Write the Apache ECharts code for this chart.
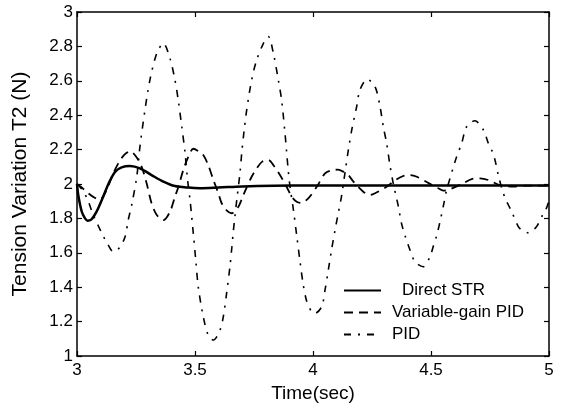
<!DOCTYPE html>
<html><head><meta charset="utf-8">
<script src="https://cdn.jsdelivr.net/npm/echarts@6/dist/echarts.min.js"></script>
<style>html,body{margin:0;padding:0;background:#fff}#c{width:570px;height:403px}</style>
</head><body><div id="c"></div>
<script>
const seriesNames = ['Direct STR', 'Variable-gain PID', 'PID'];

const strTime  = [3.000,3.006,3.020,3.034,3.045,3.060,3.075,3.090,3.111,3.133,3.161,3.189,3.225,3.267,3.316,3.366,3.415,3.472,3.521,3.600,3.700,3.830,4.000,4.250,4.500,4.750,5.000];
const strValue = [2.00,1.93,1.84,1.80,1.787,1.793,1.82,1.859,1.926,2.00,2.07,2.097,2.105,2.091,2.052,2.014,1.988,1.979,1.976,1.98,1.986,1.99,1.992,1.992,1.992,1.992,1.992];

const vgTime  = [3.000,3.020,3.048,3.075,3.097,3.120,3.150,3.175,3.200,3.225,3.250,3.274,3.295,3.316,3.338,3.366,3.394,3.415,3.430,3.450,3.472,3.493,3.515,3.535,3.556,3.578,3.599,3.613,3.635,3.655,3.684,3.705,3.740,3.761,3.785,3.811,3.832,3.860,3.888,3.910,3.931,3.950,3.980,4.016,4.051,4.079,4.105,4.128,4.150,4.171,4.213,4.242,4.263,4.312,4.340,4.380,4.411,4.440,4.490,4.531,4.552,4.580,4.637,4.675,4.708,4.743,4.792,4.850,4.900,4.950,5.000];
const vgValue = [2.00,1.98,1.946,1.92,1.91,1.95,2.05,2.12,2.17,2.19,2.16,2.10,2.004,1.888,1.82,1.79,1.839,1.926,1.984,2.08,2.159,2.205,2.19,2.169,2.11,2.023,1.946,1.888,1.845,1.83,1.868,1.936,2.042,2.09,2.13,2.14,2.11,2.052,1.984,1.926,1.897,1.89,1.917,1.984,2.062,2.08,2.083,2.072,2.052,2.014,1.955,1.936,1.946,1.984,2.014,2.045,2.052,2.042,2.005,1.975,1.962,1.97,2.004,2.03,2.033,2.023,1.994,1.985,1.99,1.99,1.99];

const pidTime  = [3.000,3.020,3.045,3.066,3.089,3.110,3.130,3.154,3.180,3.203,3.217,3.232,3.253,3.267,3.288,3.309,3.338,3.366,3.394,3.415,3.429,3.444,3.458,3.468,3.479,3.486,3.493,3.503,3.514,3.535,3.556,3.578,3.606,3.620,3.634,3.648,3.656,3.662,3.669,3.677,3.691,3.698,3.708,3.719,3.740,3.761,3.790,3.811,3.832,3.853,3.867,3.881,3.888,3.895,3.903,3.917,3.931,3.945,3.958,3.973,3.994,4.008,4.037,4.051,4.065,4.079,4.093,4.107,4.121,4.136,4.150,4.165,4.185,4.199,4.230,4.263,4.284,4.298,4.312,4.326,4.340,4.354,4.362,4.375,4.390,4.411,4.432,4.467,4.496,4.510,4.524,4.538,4.552,4.566,4.580,4.595,4.609,4.630,4.651,4.686,4.722,4.743,4.757,4.771,4.785,4.800,4.814,4.828,4.842,4.870,4.884,4.912,4.947,4.969,4.983,5.000];
const pidValue = [2.00,1.97,1.91,1.83,1.76,1.70,1.65,1.606,1.63,1.69,1.79,1.88,2.04,2.22,2.43,2.605,2.76,2.818,2.73,2.605,2.488,2.333,2.18,2.03,1.907,1.81,1.71,1.56,1.40,1.229,1.122,1.093,1.151,1.229,1.365,1.519,1.63,1.72,1.81,1.907,2.07,2.18,2.31,2.43,2.605,2.72,2.818,2.857,2.76,2.605,2.488,2.30,2.19,2.08,1.98,1.85,1.70,1.55,1.42,1.32,1.258,1.248,1.287,1.384,1.50,1.62,1.73,1.83,1.93,2.07,2.20,2.32,2.45,2.547,2.609,2.566,2.45,2.333,2.237,2.11,2.004,1.917,1.868,1.771,1.70,1.616,1.548,1.519,1.578,1.64,1.70,1.78,1.87,1.965,2.03,2.10,2.16,2.237,2.333,2.368,2.314,2.237,2.198,2.14,2.052,1.975,1.917,1.878,1.839,1.752,1.733,1.717,1.752,1.81,1.839,1.90];

const xTickLabels = ['3', '3.5', '4', '4.5', '5'];
const yTickLabels = ['1', '1.2', '1.4', '1.6', '1.8', '2', '2.2', '2.4', '2.6', '2.8', '3'];

const zip = (t, v) => t.map((x, i) => [x, v[i]]);
const FONT = '"Liberation Sans", Arial, Helvetica, sans-serif';

const lineAxis = { onZero: false, lineStyle: { color: '#000', width: 1.5 } };
const tickAxis = { inside: true, length: 5, lineStyle: { color: '#000', width: 1.2 } };

const chart = echarts.init(document.getElementById('c'), null, { renderer: 'canvas' });
chart.setOption({
  animation: false,
  backgroundColor: '#fff',
  grid: { left: 77, right: 21, top: 12, bottom: 47, containLabel: false, outerBoundsMode: 'none' },
  xAxis: [
    { type: 'value', min: 3, max: 5, interval: 0.5, position: 'bottom',
      name: 'Time(sec)', nameLocation: 'middle', nameGap: 22,
      nameTextStyle: { fontSize: 19, color: '#000', fontFamily: FONT },
      axisLine: lineAxis, axisTick: tickAxis, splitLine: { show: false },
      axisLabel: { margin: 6, fontSize: 17, color: '#000', fontFamily: FONT,
        formatter: (v) => xTickLabels[Math.round((v - 3) / 0.5)] } },
    { type: 'value', min: 3, max: 5, interval: 0.5, position: 'top',
      axisLine: lineAxis, axisTick: tickAxis, splitLine: { show: false }, axisLabel: { show: false } }
  ],
  yAxis: [
    { type: 'value', min: 1, max: 3, interval: 0.2, position: 'left',
      name: 'Tension Variation T2 (N)', nameLocation: 'middle', nameGap: 46,
      nameTextStyle: { fontSize: 21, color: '#000', fontFamily: FONT },
      axisLine: lineAxis, axisTick: tickAxis, splitLine: { show: false },
      axisLabel: { margin: 4, fontSize: 17, color: '#000', fontFamily: FONT,
        formatter: (v) => yTickLabels[Math.round((v - 1) / 0.2)] } },
    { type: 'value', min: 1, max: 3, interval: 0.2, position: 'right',
      axisLine: lineAxis, axisTick: tickAxis, splitLine: { show: false }, axisLabel: { show: false } }
  ],
  legend: {
    data: seriesNames, orient: 'vertical', left: 338, top: 277,
    itemWidth: 37, itemHeight: 14, itemGap: 5, selectedMode: false,
    itemStyle: { opacity: 0 },
    formatter: (name) => name === 'Direct STR' ? '{s|' + name + '}' : '{n|' + name + '}',
    textStyle: { fontSize: 17, color: '#000', fontFamily: FONT,
      rich: {
        s: { fontSize: 17, color: '#000', fontFamily: FONT, padding: [0, 0, 0, 16] },
        n: { fontSize: 17, color: '#000', fontFamily: FONT, padding: [0, 0, 0, 6] }
      } }
  },
  series: [
    { name: seriesNames[0], type: 'line', data: zip(strTime, strValue), showSymbol: false, symbol: 'none',
      smooth: 0.3, color: '#000', lineStyle: { color: '#000', width: 2.5, type: 'solid' } },
    { name: seriesNames[1], type: 'line', data: zip(vgTime, vgValue), showSymbol: false, symbol: 'none',
      smooth: 0.3, color: '#000', lineStyle: { color: '#000', width: 1.8, type: [9, 6] } },
    { name: seriesNames[2], type: 'line', data: zip(pidTime, pidValue), showSymbol: false, symbol: 'none',
      smooth: 0.3, color: '#000', lineStyle: { color: '#000', width: 1.6, type: [7, 7, 2, 7] } }
  ]
});
</script>
</body></html>
